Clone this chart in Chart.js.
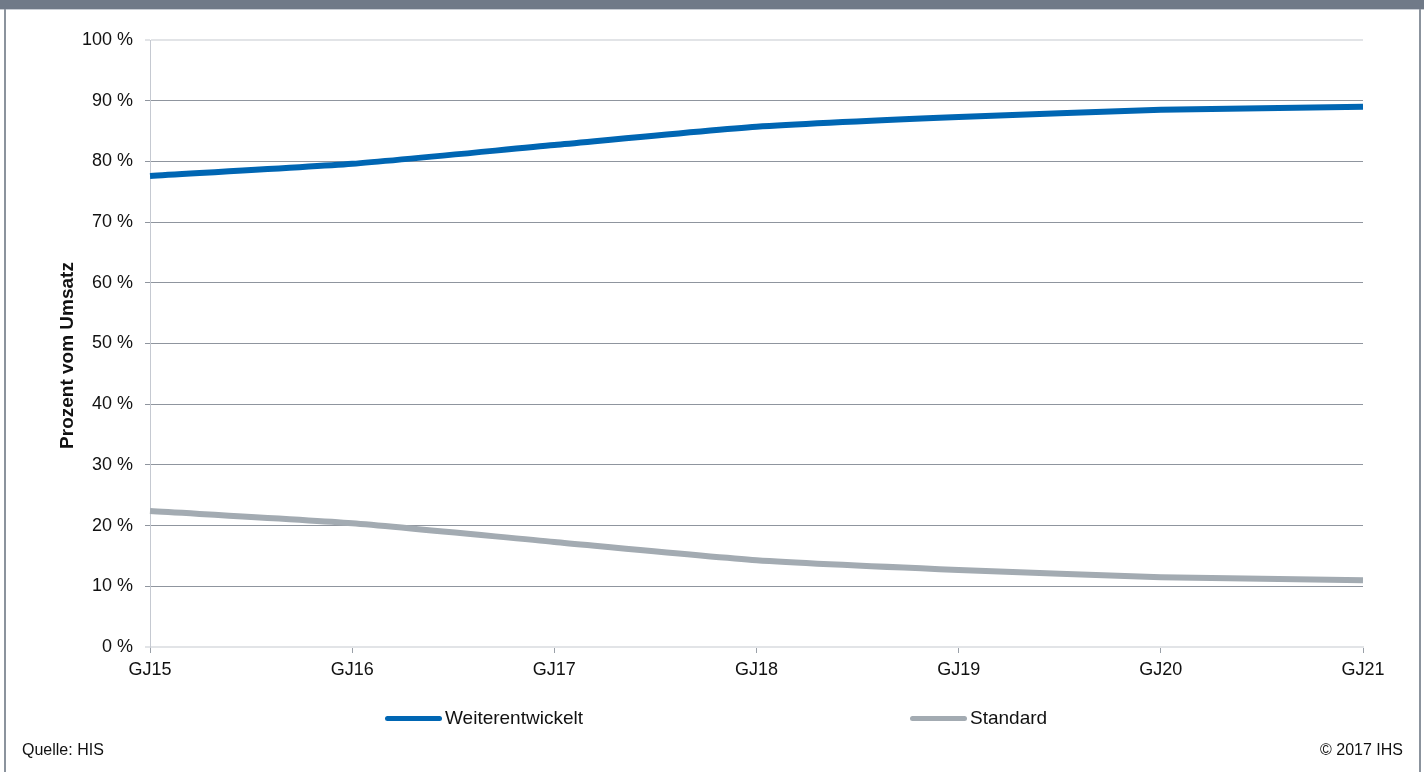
<!DOCTYPE html>
<html lang="de">
<head>
<meta charset="utf-8">
<title>Prozent vom Umsatz</title>
<script src="https://cdn.jsdelivr.net/npm/chart.js@4/dist/chart.umd.min.js"></script>
<style>
  html, body { margin: 0; padding: 0; background: #ffffff; }
  body { width: 1424px; height: 772px; position: relative; overflow: hidden;
         font-family: "Liberation Sans", Arial, sans-serif; color: #111; }
  #topbar { position: absolute; left: 0; top: 0; width: 1424px; height: 9px; background: #707a88;
            border-bottom: 1px solid #c9ced5; }
  .side { position: absolute; top: 9px; bottom: 0; width: 2px; background: #8b939d; }
  #wrap { position: absolute; left: 0; top: 0; width: 1424px; height: 772px; }
  #legend { position: absolute; top: 706px; left: 0; width: 1424px; height: 24px; }
  .item { position: absolute; top: 0; height: 24px; display: flex; align-items: center; font-size: 19px; }
  .swatch { width: 57px; height: 5px; border-radius: 3px; margin-right: 3px; }
  .foot { position: absolute; top: 741px; font-size: 16px; }
</style>
</head>
<body>
<div id="topbar"></div>
<div class="side" style="left:4px"></div>
<div class="side" style="left:1419px"></div>
<div id="wrap"><canvas id="chart" width="1424" height="772"></canvas></div>
<div id="legend"></div>
<div class="foot" style="left:22px">Quelle: HIS</div>
<div class="foot" style="right:21px">© 2017 IHS</div>
<script>
// Fiscal years on the x axis
const categories = ['GJ15', 'GJ16', 'GJ17', 'GJ18', 'GJ19', 'GJ20', 'GJ21'];
// Share of revenue in percent
const weiterentwickelt = [77.6, 79.6, 82.7, 85.7, 87.3, 88.5, 89.0];
const standard = [22.4, 20.4, 17.3, 14.3, 12.7, 11.5, 11.0];
const seriesNames = ['Weiterentwickelt', 'Standard'];
const yAxisTitle = 'Prozent vom Umsatz';

const BLUE = '#0066b3';
const GREY = '#a3abb2';
const GRID_DARK = '#8f959e';
const GRID_LIGHT = '#e2e4e7';

// Rotated axis title, placed a little below the vertical centre of the plot
const axisTitlePlugin = {
  id: 'axisTitle',
  afterDraw(chart) {
    const { ctx, chartArea } = chart;
    ctx.save();
    ctx.translate(68, (chartArea.top + chartArea.bottom) / 2 + 12);
    ctx.rotate(-Math.PI / 2);
    ctx.font = 'bold 19px "Liberation Sans", Arial, sans-serif';
    ctx.fillStyle = '#111111';
    ctx.textAlign = 'center';
    ctx.textBaseline = 'middle';
    ctx.fillText(yAxisTitle, 0, 0);
    ctx.restore();
  }
};

const chart = new Chart(document.getElementById('chart'), {
  type: 'line',
  data: {
    labels: categories,
    datasets: [
      { label: seriesNames[0], data: weiterentwickelt, borderColor: BLUE, backgroundColor: BLUE,
        borderWidth: 6, pointRadius: 0, tension: 0.2, borderCapStyle: 'butt' },
      { label: seriesNames[1], data: standard, borderColor: GREY, backgroundColor: GREY,
        borderWidth: 6, pointRadius: 0, tension: 0.2, borderCapStyle: 'butt' }
    ]
  },
  options: {
    responsive: false,
    animation: false,
    layout: { padding: { top: 40, right: 61, bottom: 0, left: 0 } },
    plugins: { legend: { display: false }, tooltip: { enabled: false } },
    font: { family: '"Liberation Sans", Arial, sans-serif' },
    scales: {
      x: {
        offset: false,
        afterFit(scale) { scale.height = 125; },
        border: { color: GRID_LIGHT, width: 2 },
        grid: { drawOnChartArea: false, drawTicks: true, tickLength: 6, color: '#9aa0a8' },
        ticks: { color: '#111111', padding: 6, maxRotation: 0,
                 font: { size: 18, family: '"Liberation Sans", Arial, sans-serif' } }
      },
      y: {
        min: 0, max: 100,
        afterFit(scale) { scale.width = 150; },
        border: { color: '#c5c9d1', width: 1 },
        grid: {
          tickLength: 5,
          color: ctx => (ctx.tick && (ctx.tick.value === 0 || ctx.tick.value === 100)) ? GRID_LIGHT : GRID_DARK,
          lineWidth: ctx => (ctx.tick && (ctx.tick.value === 0 || ctx.tick.value === 100)) ? 2 : 1
        },
        ticks: { stepSize: 10, color: '#111111', padding: 12,
                 font: { size: 18, family: '"Liberation Sans", Arial, sans-serif' },
                 callback: v => v + ' %' }
      }
    }
  },
  plugins: [axisTitlePlugin]
});

// Legend entries built from the chart's datasets
const legendPositions = [385, 910];
const legend = document.getElementById('legend');
chart.data.datasets.forEach((ds, i) => {
  const item = document.createElement('div');
  item.className = 'item';
  item.style.left = legendPositions[i] + 'px';
  const sw = document.createElement('div');
  sw.className = 'swatch';
  sw.style.background = ds.borderColor;
  const tx = document.createElement('span');
  tx.textContent = ds.label;
  item.appendChild(sw);
  item.appendChild(tx);
  legend.appendChild(item);
});
</script>
</body>
</html>
